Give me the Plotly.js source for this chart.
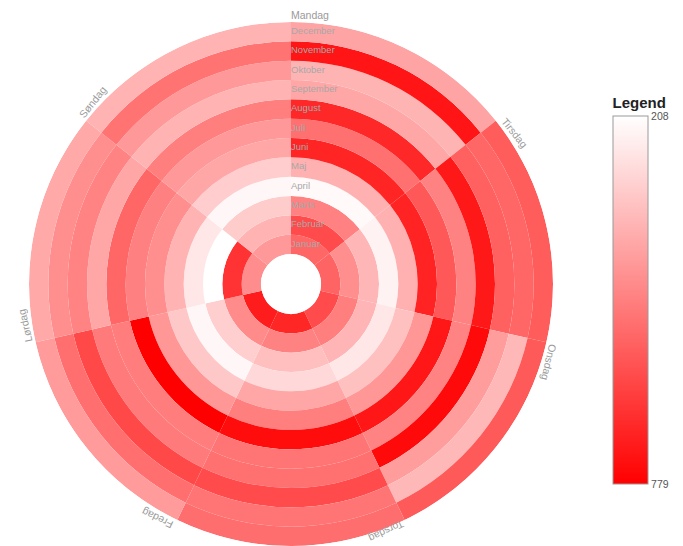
<!DOCTYPE html>
<html>
<head>
<meta charset="utf-8">
<script src="https://cdn.plot.ly/plotly-3.0.1.min.js"></script>
<style>html,body{margin:0;padding:0;background:#fff;}#chart{width:683px;height:546px;}</style>
</head>
<body>
<div id="chart"></div>
<script>
// Categories
const days = ['Mandag', 'Tirsdag', 'Onsdag', 'Torsdag', 'Fredag', 'Lørdag', 'Søndag'];
const months = ['Januar', 'Februar', 'Marts', 'April', 'Maj', 'Juni', 'Juli', 'August', 'September', 'Oktober', 'November', 'December'];

// Values per weekday, Januar..December (inner ring to outer ring)
const mandag  = [548, 612, 490, 221, 383, 697, 527, 689, 405, 376, 731, 412];
const tirsdag = [556, 462, 371, 236, 384, 701, 583, 489, 725, 563, 548, 572];
const onsdag  = [611, 497, 374, 262, 348, 441, 728, 486, 756, 430, 367, 578];
const torsdag = [695, 489, 351, 293, 407, 497, 752, 520, 526, 611, 519, 532];
const fredag  = [716, 468, 318, 227, 331, 440, 779, 498, 503, 617, 530, 431];
const loerdag = [463, 665, 208, 262, 378, 461, 493, 551, 404, 486, 459, 401];
const soendag = [437, 379, 322, 225, 320, 408, 436, 494, 379, 437, 522, 379];

const minVal = 208;
const maxVal = 779;
const colorbarTicks = [208, 779];

const seriesByDay = [mandag, tirsdag, onsdag, torsdag, fredag, loerdag, soendag];

const sector = 360 / days.length;
const theta = [], base = [], rr = [], colorVals = [], hover = [];
seriesByDay.forEach((vals, d) => {
  vals.forEach((v, m) => {
    theta.push(d * sector + sector / 2);
    base.push(m);
    rr.push(1);
    colorVals.push(-v);
    hover.push(days[d] + ', ' + months[m] + ': ' + v);
  });
});

const heat = {
  type: 'barpolar',
  theta: theta,
  r: rr,
  base: base,
  width: sector,
  text: hover,
  hoverinfo: 'text',
  showlegend: false,
  marker: {
    color: colorVals,
    colorscale: [[0, 'rgb(255,0,0)'], [1, 'rgb(255,255,255)']],
    cmin: -maxVal,
    cmax: -minVal,
    line: {width: 0},
    showscale: true,
    colorbar: {
      x: 613 / 683, xanchor: 'left', xref: 'paper',
      y: 1 - 289 / 546, yanchor: 'middle', yref: 'paper',
      len: 390 / 546, lenmode: 'fraction',
      thickness: 35, thicknessmode: 'pixels',
      xpad: 0, ypad: 0,
      outlinewidth: 1, outlinecolor: '#9a9a9a',
      tickmode: 'array',
      tickvals: colorbarTicks.map(v => -v),
      ticktext: colorbarTicks.map(String),
      ticks: '',
      tickfont: {size: 10.5, color: '#555', family: 'Liberation Sans, Arial, sans-serif'},
      title: {text: '<b>Legend</b>', side: 'top', font: {size: 15, color: '#222', family: 'Liberation Sans, Arial, sans-serif'}}
    }
  }
};

const monthLabels = {
  type: 'scatterpolar',
  mode: 'text',
  theta: months.map(() => 0),
  r: months.map((m, i) => i + 0.5),
  text: months,
  textposition: 'middle right',
  textfont: {size: 9.5, color: '#a8a8a8', family: 'Liberation Sans, Arial, sans-serif'},
  hoverinfo: 'skip',
  showlegend: false
};

// Weekday labels along the outer edge, rotated tangentially
const W = 683, H = 546, cx = 291, cy = 284;
const annotations = days.map((name, d) => {
  const R = (d === 3) ? 264 : 269;
  const a = d * sector * Math.PI / 180;
  const hw = name.length * 3.1;
  const px = cx + R * Math.sin(a) + hw * Math.cos(a);
  const py = cy - R * Math.cos(a) + hw * Math.sin(a);
  return {
    text: name, xref: 'paper', yref: 'paper',
    x: px / W, y: 1 - py / H, xanchor: 'center', yanchor: 'middle',
    showarrow: false, textangle: d * sector,
    font: {size: 10.5, color: '#9a9a9a', family: 'Liberation Sans, Arial, sans-serif'}
  };
});

const layout = {
  width: W, height: H,
  margin: {l: 0, r: 0, t: 0, b: 0},
  paper_bgcolor: '#fff',
  showlegend: false,
  annotations: annotations,
  polar: {
    domain: {x: [29 / W, 553 / W], y: [0, 524 / H]},
    bgcolor: '#fff',
    hole: 30 / 262,
    bargap: 0,
    radialaxis: {visible: false, range: [0, months.length]},
    angularaxis: {
      rotation: 90, direction: 'clockwise',
      showgrid: false, showline: false, showticklabels: false, ticks: ''
    }
  }
};

Plotly.newPlot('chart', [heat, monthLabels], layout, {displayModeBar: false, staticPlot: true});
</script>
</body>
</html>
